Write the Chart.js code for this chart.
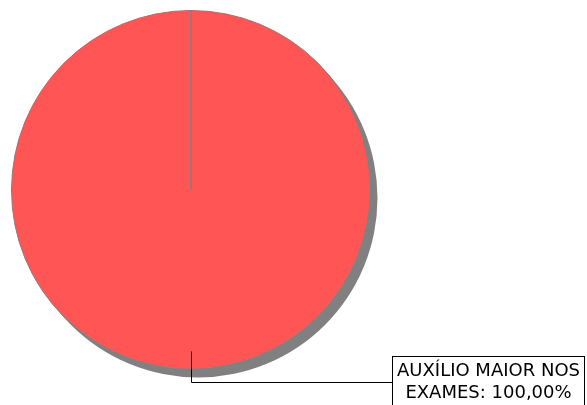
<!DOCTYPE html>
<html>
<head>
<meta charset="utf-8">
<script src="https://cdn.jsdelivr.net/npm/chart.js@4"></script>
<style>
  html, body { margin: 0; padding: 0; background: #ffffff; }
  #wrap { width: 587px; height: 405px; }
</style>
</head>
<body>
<div id="wrap"><canvas id="graphPie"></canvas></div>
<script>
// data
var categories = ['AUXÍLIO MAIOR NOS EXAMES']
var values = [100]
var valueLabels = ['100,00%']

// === shadow behind the pie ===
var pieShadow = {
    id: 'pieShadow',
    beforeDatasetsDraw: function(chart) {
        var arc = chart.getDatasetMeta(0).data[0]
        var ctx = chart.ctx
        ctx.save()
        ctx.fillStyle = '#808080'
        ctx.beginPath()
        ctx.arc(arc.x + 7, arc.y + 8, arc.outerRadius, 0, Math.PI * 2)
        ctx.fill()
        ctx.restore()
    }
}

// === callout label with leader line ===
var calloutLabel = {
    id: 'calloutLabel',
    afterDatasetsDraw: function(chart) {
        var arc = chart.getDatasetMeta(0).data[0]
        var ctx = chart.ctx
        var lines = ['AUXÍLIO MAIOR NOS', 'EXAMES: ' + valueLabels[0]]
        var startY = arc.y + arc.outerRadius * 0.9
        var lineY = Math.round(arc.y + arc.outerRadius + 12) + 0.5
        var boxX = 392.5, boxY = 356.5, boxW = 192, boxH = 60
        ctx.save()
        ctx.strokeStyle = '#000000'
        ctx.lineWidth = 1
        ctx.beginPath()
        ctx.moveTo(Math.round(arc.x) + 0.5, startY)
        ctx.lineTo(Math.round(arc.x) + 0.5, lineY)
        ctx.lineTo(boxX, lineY)
        ctx.stroke()
        ctx.fillStyle = '#ffffff'
        ctx.fillRect(boxX, boxY, boxW, boxH)
        ctx.strokeRect(boxX, boxY, boxW, boxH)
        ctx.fillStyle = '#000000'
        ctx.font = '18px "DejaVu Sans"'
        ctx.textAlign = 'center'
        ctx.textBaseline = 'middle'
        ctx.fillText(lines[0], boxX + boxW / 2, 371)
        ctx.fillText(lines[1], boxX + boxW / 2, 393)
        ctx.restore()
    }
}

var config = {
    type: 'pie',
    data: {
        labels: categories,
        datasets: [{
            data: values,
            backgroundColor: '#ff5555',
            borderColor: '#808080',
            borderWidth: 1,
        }],
    },
    options: {
        responsive: true,
        maintainAspectRatio: false,
        animation: false,
        layout: {
            padding: { top: 10, bottom: 35, left: 11, right: 216 },
        },
        plugins: {
            legend: false, // no legend in the picture
            tooltip: { enabled: false },
        },
    },
    plugins: [pieShadow, calloutLabel],
};

const PIEgraph = document.getElementById('graphPie').getContext('2d');
new Chart(PIEgraph, config)
</script>
</body>
</html>
